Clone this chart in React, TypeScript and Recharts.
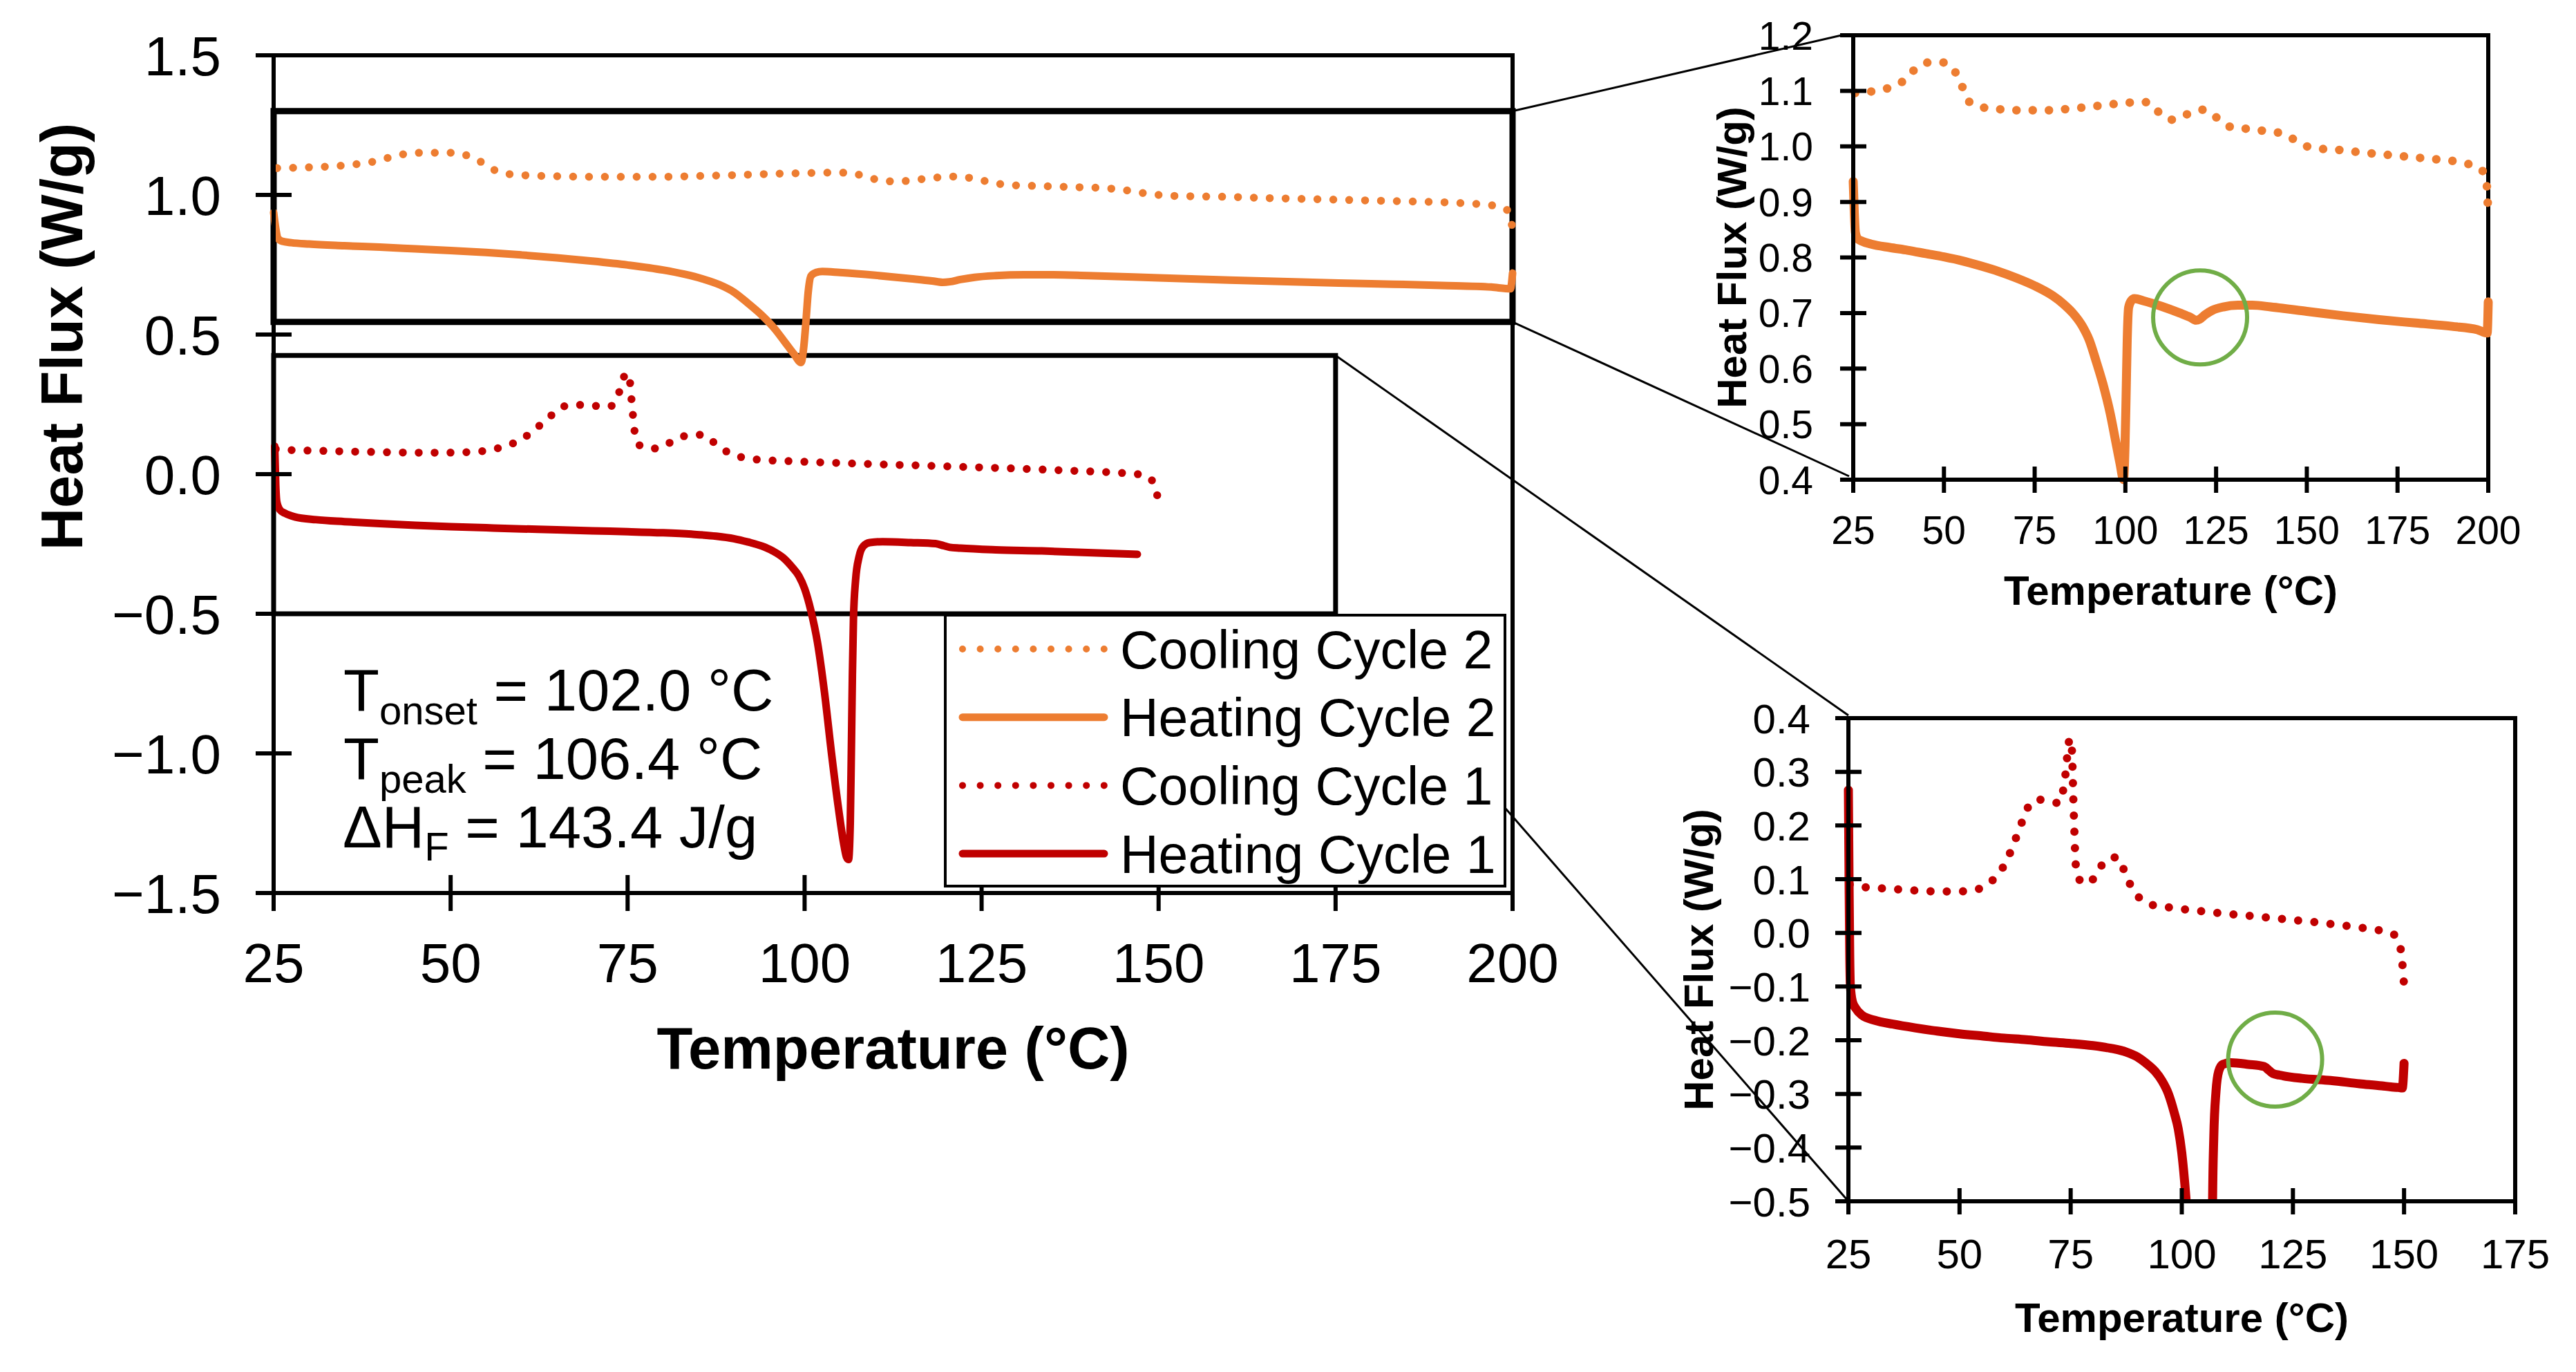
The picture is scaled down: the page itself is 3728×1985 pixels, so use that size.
import React from "react";
import { LineChart, Line, XAxis, YAxis, ReferenceArea, ReferenceDot, Legend } from "recharts";

const ORANGE = "#ED7D31";
const RED = "#C00000";
const GREEN = "#70AD47";
const FONT = '"Liberation Sans", Arial, Helvetica, sans-serif';

// DSC traces: [temperature (°C), heat flux (W/g)]
const heating1: [number, number][] = [
  [25.0, 0.266], [25.15, 0.1], [25.3, -0.04], [25.45, -0.099], [25.9, -0.128], [26.6, -0.14],
  [28, -0.153], [31, -0.163], [35, -0.17], [40, -0.177], [45, -0.183], [50, -0.188],
  [55, -0.192], [60, -0.196], [65, -0.199], [70, -0.203], [75, -0.206], [80, -0.21],
  [84, -0.215], [87.5, -0.222], [90, -0.231], [92, -0.243], [94, -0.258], [95.5, -0.275],
  [97, -0.3], [98.3, -0.335], [99.2, -0.365], [100.0, -0.41], [100.9, -0.49], [101.8, -0.6],
  [102.8, -0.78], [103.8, -1.0], [104.8, -1.2], [105.5, -1.32], [105.9, -1.37], [106.2, -1.38],
  [106.45, -1.25], [106.6, -1.0], [106.75, -0.72], [106.9, -0.52], [107.2, -0.38], [107.7, -0.295],
  [108.3, -0.258], [109.2, -0.245], [111, -0.242], [115, -0.245], [118.5, -0.249], [119.6, -0.256],
  [120.5, -0.262], [122, -0.265], [127, -0.271], [133.5, -0.275], [140, -0.281], [145, -0.285],
  [147, -0.287], [148.7, -0.288], [149.6, -0.289], [150, -0.243],
];

const cooling1: [number, number][] = [
  [25.3, 0.09], [27.5, 0.086], [31, 0.084], [35, 0.0815], [38, 0.08], [42, 0.078],
  [45.5, 0.077], [49, 0.077], [52.5, 0.079], [55, 0.084], [57, 0.095], [58.7, 0.109],
  [60.5, 0.133], [62, 0.162], [63.3, 0.19], [64.6, 0.218], [66.2, 0.244], [68, 0.248],
  [70, 0.245], [72.5, 0.242], [73.4, 0.27], [73.9, 0.3], [74.3, 0.335], [74.8, 0.362],
  [75.2, 0.35], [75.45, 0.3], [75.6, 0.25], [75.8, 0.2], [76.0, 0.15], [76.4, 0.11],
  [77.5, 0.095], [79, 0.092], [81, 0.113], [83, 0.136], [85.5, 0.141], [87, 0.117],
  [88.7, 0.085], [90.6, 0.064], [93.9, 0.051], [97.6, 0.047], [101.3, 0.043], [105, 0.04],
  [110, 0.0355], [115, 0.032], [120, 0.028], [125, 0.024], [130, 0.02], [135, 0.015],
  [140, 0.01], [144.9, 0.004], [147.5, -0.002], [148.8, -0.015], [149.4, -0.04],
  [149.75, -0.07], [150, -0.098],
];

const heating2: [number, number][] = [
  [25.0, 0.937], [25.3, 0.88], [25.6, 0.845], [26.2, 0.834], [27.5, 0.829], [30, 0.824],
  [35, 0.818], [40, 0.813], [45, 0.807], [50, 0.801], [55, 0.794], [60, 0.785],
  [65, 0.775], [70, 0.763], [75, 0.749], [80, 0.731], [83, 0.716], [85.5, 0.7],
  [88, 0.678], [90, 0.652], [92, 0.612], [94, 0.568], [95.8, 0.52], [97.3, 0.47],
  [98.5, 0.43], [99.5, 0.4], [99.9, 0.46], [100.2, 0.55], [100.5, 0.65], [100.9, 0.71],
  [101.6, 0.722], [102.5, 0.726], [105, 0.722], [110, 0.712], [115, 0.7], [118, 0.692],
  [119.5, 0.687], [120.5, 0.689], [122, 0.697], [124, 0.705], [127, 0.711], [131, 0.714],
  [135, 0.714], [140, 0.711], [150, 0.703], [160, 0.695], [170, 0.688], [180, 0.682],
  [190, 0.676], [197, 0.67], [199.7, 0.664], [200, 0.72],
];

const cooling2: [number, number][] = [
  [25.5, 1.096], [29, 1.098], [33, 1.102], [36, 1.108], [39.5, 1.121], [42.5, 1.142],
  [46, 1.151], [50, 1.151], [53, 1.135], [55, 1.108], [57, 1.08], [60, 1.071],
  [65, 1.067], [70, 1.065], [75, 1.065], [80, 1.065], [85, 1.068], [90, 1.071],
  [95, 1.075], [100, 1.078], [104, 1.08], [106.5, 1.079], [108.5, 1.066], [111, 1.051],
  [113, 1.048], [116, 1.055], [119, 1.063], [121.5, 1.066], [124, 1.058], [126.5, 1.044],
  [129, 1.035], [133, 1.032], [138, 1.028], [142, 1.025], [145, 1.018], [148, 1.006],
  [151, 0.998], [155, 0.995], [160, 0.993], [165, 0.989], [170, 0.986], [175, 0.983],
  [180, 0.98], [185, 0.977], [190, 0.974], [194, 0.969], [197, 0.963], [199, 0.95],
  [199.6, 0.93], [199.85, 0.9], [200, 0.872],
];

const mainTemps = [25, 50, 75, 100, 125, 150, 175, 200];
const mainFlux = [-1.5, -1.0, -0.5, 0.0, 0.5, 1.0, 1.5];
const cycle2Temps = [25, 50, 75, 100, 125, 150, 175, 200];
const cycle2Flux = [0.4, 0.5, 0.6, 0.7, 0.8, 0.9, 1.0, 1.1, 1.2];
const cycle1Temps = [25, 50, 75, 100, 125, 150, 175];
const cycle1Flux = [-0.5, -0.4, -0.3, -0.2, -0.1, 0.0, 0.1, 0.2, 0.3, 0.4];

const legendItems = [
  { name: "Cooling Cycle 2", color: ORANGE, dotted: true },
  { name: "Heating Cycle 2", color: ORANGE, dotted: false },
  { name: "Cooling Cycle 1", color: RED, dotted: true },
  { name: "Heating Cycle 1", color: RED, dotted: false },
];

type Pt = { t: number; v: number };
const pts = (rows: [number, number][]): Pt[] => rows.map(([t, v]) => ({ t, v }));

const H1 = pts(heating1);
// the overview plot uses the trimmed first-heating run (no start spike, no end step)
const H1_MAIN = H1.filter((p) => p.t > 25 && p.t <= 147.5);
const C1 = pts(cooling1);
const H2 = pts(heating2);
const C2 = pts(cooling2);

// panel geometry (chart box on the page + plot edges inside it)
const MAIN = { x: 0, y: 0, w: 2300, h: 1620, l: 396, r: 2189, t: 80, b: 1292 };
const TOP = { x: 2400, y: 0, w: 1300, h: 940, l: 282, r: 1201, t: 51, b: 694 };
const BOT = { x: 2380, y: 980, w: 1320, h: 1000, l: 295, r: 1260, t: 59, b: 758 };

const fmt = (v: number) => (v < 0 ? "\u2212" + Math.abs(v).toFixed(1) : v.toFixed(1));
const axisLine = { stroke: "#000", strokeWidth: 6 };

function yTick(half: number, gap: number, size: number) {
  return (p: any) => (
    <g>
      <line x1={p.x - half} x2={p.x + half} y1={p.y} y2={p.y} stroke="#000" strokeWidth={6} />
      <text x={p.x - half - gap} y={p.y} dy="0.36em" textAnchor="end" fontSize={size} fontFamily={FONT} fill="#000">
        {fmt(p.payload.value)}
      </text>
    </g>
  );
}

function xTick(half: number, offset: number, size: number) {
  return (p: any) => (
    <g>
      <line x1={p.x} x2={p.x} y1={p.y - half} y2={p.y + half} stroke="#000" strokeWidth={6} />
      <text x={p.x} y={p.y + offset} dy="0.36em" textAnchor="middle" fontSize={size} fontFamily={FONT} fill="#000">
        {p.payload.value}
      </text>
    </g>
  );
}

function yTitle(cx: number, cy: number, size: number) {
  return () => (
    <text x={cx} y={cy} dy="0.36em" transform={`rotate(-90 ${cx} ${cy})`} textAnchor="middle"
      fontSize={size} fontWeight="bold" fontFamily={FONT} fill="#000">
      Heat Flux (W/g)
    </text>
  );
}

function xTitle(cx: number, baseline: number, size: number) {
  return () => (
    <text x={cx} y={baseline} textAnchor="middle" fontSize={size} fontWeight="bold" fontFamily={FONT} fill="#000">
      Temperature (°C)
    </text>
  );
}

function trace(key: string, data: Pt[], color: string, dotted: boolean, width: number, gap: number) {
  return (
    <Line key={key} data={data} dataKey="v" type="monotone" stroke={color} strokeWidth={width}
      strokeDasharray={dotted ? `0 ${gap}` : undefined} strokeLinecap="round" strokeLinejoin="round"
      dot={false} activeDot={false} isAnimationActive={false} legendType="none" />
  );
}

const legendBox = () => (
  <svg width={814} height={396} style={{ display: "block" }}>
    <rect x={2} y={2} width={810} height={392} fill="#fff" stroke="#000" strokeWidth={4} />
    {legendItems.map((s, i) => {
      const cy = 51 + i * 98.7;
      return (
        <g key={s.name}>
          <line x1={27} x2={232} y1={cy} y2={cy} stroke={s.color} strokeWidth={s.dotted ? 10 : 11}
            strokeDasharray={s.dotted ? "0 25.6" : undefined} strokeLinecap="round" />
          <text x={255} y={cy} dy="0.36em" fontSize={77} fontFamily={FONT} fill="#000">{s.name}</text>
        </g>
      );
    })}
  </svg>
);

const mainX = (t: number) => MAIN.x + MAIN.l + ((t - 25) / 175) * (MAIN.r - MAIN.l);
const mainY = (v: number) => MAIN.y + MAIN.t + ((1.5 - v) / 3) * (MAIN.b - MAIN.t);

export default function App() {
  const topL = TOP.x + TOP.l;
  const topT = TOP.y + TOP.t;
  const topB = TOP.y + TOP.b;
  const botL = BOT.x + BOT.l;
  const botT = BOT.y + BOT.t;
  const botB = BOT.y + BOT.b;

  return (
    <div style={{ position: "absolute", left: 0, top: 0, width: 3728, height: 1985, background: "#fff", overflow: "hidden", fontFamily: FONT }}>
      {/* connector lines and the enthalpy note sit underneath the charts */}
      <svg width={3728} height={1985} style={{ position: "absolute", left: 0, top: 0 }}>
        <g stroke="#000" strokeWidth={3}>
          <line x1={mainX(200)} y1={mainY(1.3)} x2={topL - 17} y2={topT} />
          <line x1={mainX(200)} y1={mainY(0.545)} x2={topL - 6} y2={topB - 5} />
          <line x1={mainX(175)} y1={mainY(0.425)} x2={botL} y2={botT - 4} />
          <line x1={mainX(175)} y1={mainY(-0.5)} x2={botL} y2={botB} />
        </g>
        <g fontFamily={FONT} fill="#000" fontSize={85}>
          <text x={497} y={1028}>
            T<tspan fontSize={58} dy={20}>onset</tspan><tspan dy={-20}> = 102.0 °C</tspan>
          </text>
          <text x={497} y={1127}>
            T<tspan fontSize={58} dy={20}>peak</tspan><tspan dy={-20}> = 106.4 °C</tspan>
          </text>
          <text x={496} y={1226}>
            ΔH<tspan fontSize={58} dy={19}>F</tspan><tspan dy={-19}> = 143.4 J/g</tspan>
          </text>
        </g>
      </svg>

      {/* full run */}
      <div style={{ position: "absolute", left: MAIN.x, top: MAIN.y }}>
        <LineChart width={MAIN.w} height={MAIN.h} margin={{ top: MAIN.t, right: MAIN.w - MAIN.r, bottom: 0, left: 0 }}>
          <XAxis type="number" dataKey="t" domain={[25, 200]} ticks={mainTemps} interval={0}
            tickSize={0} tickMargin={0} tickLine={false} axisLine={axisLine} height={MAIN.h - MAIN.b}
            tick={xTick(26, 100, 80)} label={xTitle((MAIN.l + MAIN.r) / 2, 1546, 85)} />
          <YAxis type="number" domain={[-1.5, 1.5]} ticks={mainFlux} interval={0}
            tickSize={0} tickMargin={0} tickLine={false} axisLine={axisLine} width={MAIN.l}
            tick={yTick(26, 50, 80)} label={yTitle(88, 487, 85)} />
          <ReferenceArea x1={25} x2={200} y1={-1.5} y2={1.5} fill="none" stroke="#000" strokeWidth={6} />
          <ReferenceArea x1={25} x2={200} y1={0.545} y2={1.3} fill="none" stroke="#000" strokeWidth={9} />
          <ReferenceArea x1={25} x2={175} y1={-0.5} y2={0.425} fill="none" stroke="#000" strokeWidth={7} />
          {trace("c2", C2, ORANGE, true, 11.5, 23)}
          {trace("h2", H2, ORANGE, false, 11, 0)}
          {trace("c1", C1, RED, true, 11.5, 23)}
          {trace("h1", H1_MAIN, RED, false, 11, 0)}
          <Legend layout="vertical" align="center" verticalAlign="middle" content={legendBox}
            wrapperStyle={{ left: 1366, top: 888, width: 814, height: 396 }} />
        </LineChart>
      </div>

      {/* second cycle close-up */}
      <div style={{ position: "absolute", left: TOP.x, top: TOP.y }}>
        <LineChart width={TOP.w} height={TOP.h} margin={{ top: TOP.t, right: TOP.w - TOP.r, bottom: 0, left: 0 }}>
          <XAxis type="number" dataKey="t" domain={[25, 200]} ticks={cycle2Temps} interval={0}
            tickSize={0} tickMargin={0} tickLine={false} axisLine={axisLine} height={TOP.h - TOP.b}
            tick={xTick(19, 72, 57)} label={xTitle((TOP.l + TOP.r) / 2, 875, 60)} />
          <YAxis type="number" domain={[0.4, 1.2]} ticks={cycle2Flux} interval={0}
            tickSize={0} tickMargin={0} tickLine={false} axisLine={axisLine} width={TOP.l}
            tick={yTick(19, 39, 57)} label={yTitle(105, (TOP.t + TOP.b) / 2, 60)} />
          <ReferenceArea x1={25} x2={200} y1={0.4} y2={1.2} fill="none" stroke="#000" strokeWidth={6} />
          {trace("c2", C2, ORANGE, true, 12.5, 23.5)}
          {trace("h2", H2, ORANGE, false, 13, 0)}
          <ReferenceDot x={120.6} y={0.692} r={68} fill="none" stroke={GREEN} strokeWidth={6} />
        </LineChart>
      </div>

      {/* first cycle close-up */}
      <div style={{ position: "absolute", left: BOT.x, top: BOT.y }}>
        <LineChart width={BOT.w} height={BOT.h} margin={{ top: BOT.t, right: BOT.w - BOT.r, bottom: 0, left: 0 }}>
          <XAxis type="number" dataKey="t" domain={[25, 175]} ticks={cycle1Temps} interval={0}
            tickSize={0} tickMargin={0} tickLine={false} axisLine={axisLine} height={BOT.h - BOT.b}
            tick={xTick(19, 75, 60)} label={xTitle((BOT.l + BOT.r) / 2, 947, 60)} />
          <YAxis type="number" domain={[-0.5, 0.4]} allowDataOverflow ticks={cycle1Flux} interval={0}
            tickSize={0} tickMargin={0} tickLine={false} axisLine={axisLine} width={BOT.l}
            tick={yTick(19, 36, 60)} label={yTitle(77, (BOT.t + BOT.b) / 2, 60)} />
          <ReferenceArea x1={25} x2={175} y1={-0.5} y2={0.4} fill="none" stroke="#000" strokeWidth={6} />
          {trace("c1", C1, RED, true, 12, 23.5)}
          {trace("h1", H1, RED, false, 13, 0)}
          <ReferenceDot x={121} y={-0.236} r={68} fill="none" stroke={GREEN} strokeWidth={6} />
        </LineChart>
      </div>
    </div>
  );
}
